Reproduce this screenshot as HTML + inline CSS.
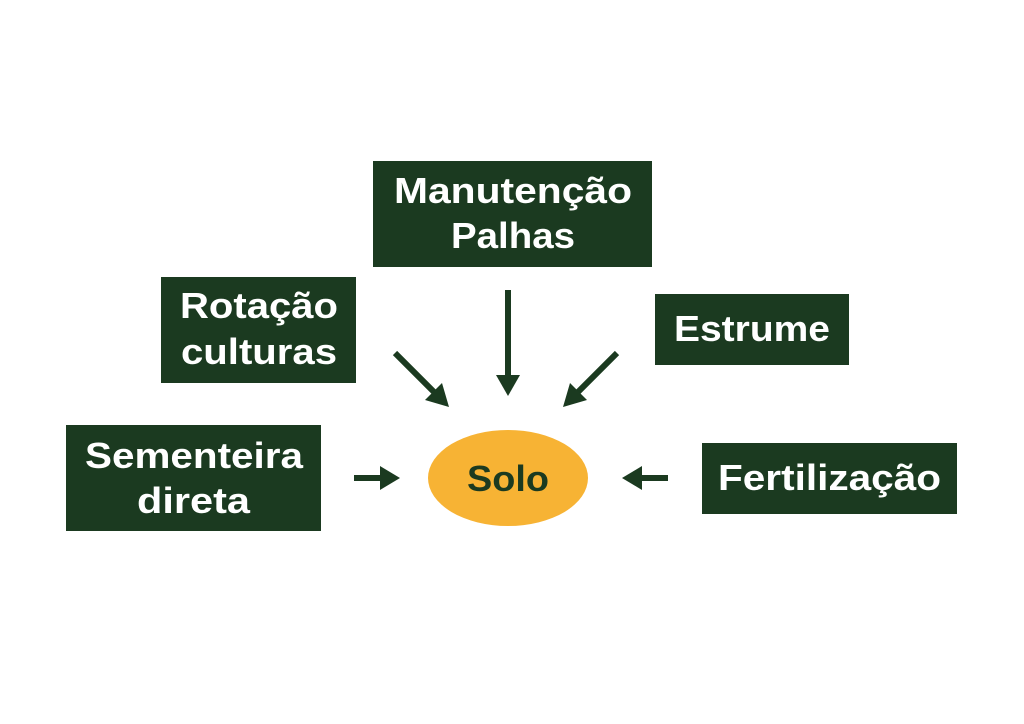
<!DOCTYPE html>
<html><head><meta charset="utf-8"><style>html,body{margin:0;padding:0;background:#fff}svg{display:block}</style></head>
<body>
<svg width="1024" height="724" viewBox="0 0 1024 724" xmlns="http://www.w3.org/2000/svg" font-family="Liberation Sans, sans-serif" font-weight="bold">
<rect width="1024" height="724" fill="#fff"/>
<g fill="#1b3a20">
<rect x="373" y="161" width="279" height="106"/>
<rect x="161" y="277" width="195" height="106"/>
<rect x="655" y="294" width="194" height="71"/>
<rect x="66" y="425" width="255" height="106"/>
<rect x="702" y="443" width="255" height="71"/>
</g>
<ellipse cx="508" cy="478" rx="80" ry="48" fill="#f7b334"/>
<g fill="#fff" font-size="36">
<text x="394" y="203" textLength="238" lengthAdjust="spacingAndGlyphs">Manutenção</text>
<text x="451" y="248" textLength="124" lengthAdjust="spacingAndGlyphs">Palhas</text>
<text x="180" y="318" textLength="158" lengthAdjust="spacingAndGlyphs">Rotação</text>
<text x="181" y="364" textLength="156" lengthAdjust="spacingAndGlyphs">culturas</text>
<text x="674" y="341" textLength="156" lengthAdjust="spacingAndGlyphs">Estrume</text>
<text x="85" y="468" textLength="218" lengthAdjust="spacingAndGlyphs">Sementeira</text>
<text x="137" y="513" textLength="113" lengthAdjust="spacingAndGlyphs">direta</text>
<text x="718" y="490" textLength="223" lengthAdjust="spacingAndGlyphs">Fertilização</text>
</g>
<text x="467" y="491" font-size="36" fill="#1b3a20" textLength="82" lengthAdjust="spacingAndGlyphs">Solo</text>
<g stroke="#1b3a20" stroke-width="6" fill="none">
<line x1="508" y1="290" x2="508" y2="378"/>
<line x1="395" y1="353" x2="436" y2="394"/>
<line x1="617" y1="353" x2="576" y2="394"/>
<line x1="354" y1="478" x2="384" y2="478"/>
<line x1="668" y1="478" x2="638" y2="478"/>
</g>
<g fill="#1b3a20">
<polygon points="496,375 520,375 508,396"/>
<polygon points="449,407 425,400 442,383"/>
<polygon points="563,407 587,400 570,383"/>
<polygon points="380,466 380,490 400,478"/>
<polygon points="642,466 642,490 622,478"/>
</g>
</svg>
</body></html>
